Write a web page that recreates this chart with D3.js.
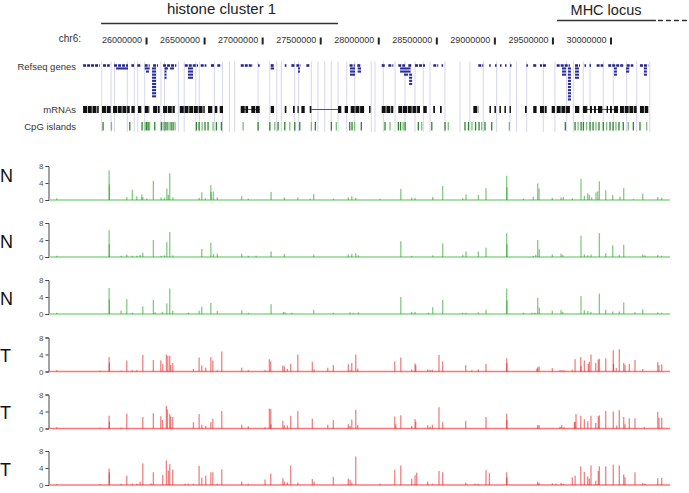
<!DOCTYPE html>
<html><head><meta charset="utf-8">
<script src="https://cdn.jsdelivr.net/npm/d3@7"></script>
<style>body{margin:0;background:#fff} svg{display:block;font-family:"Liberation Sans",Arial,sans-serif}</style>
</head><body><svg id="c" width="689" height="493"></svg>
<script>
// ---- data (positions in Mb on chr6) ----
const ticks = [26000000, 26500000, 27000000, 27500000, 28000000, 28500000, 29000000, 29500000, 30000000];
const regions = [
  {name: "histone cluster 1", start: 25.604, end: 27.645, dashEnd: null},
  {name: "MHC locus", start: 29.531, end: 30.383, dashEnd: 30.667}
];
const trackLabels = ["Refseq genes", "mRNAs", "CpG islands"];
const guideLines = [25.61,25.69,25.72,25.83,25.89,25.92,25.98,26.12,26.15,26.27,26.32,26.42,26.45,26.58,26.65,26.71,26.755,26.956,27.057,27.117,27.157,27.272,27.306,27.415,27.472,27.53,27.587,27.645,27.72,27.789,27.931,27.963,28.035,28.136,28.222,28.308,28.379,28.437,28.566,28.695,28.781,28.896,29.011,29.126,29.183,29.27,29.413,29.513,29.614,29.671,29.757,29.815,29.929,30.015,30.131,30.217,30.33];
const refseqTop = [[25.449,25.593],[25.621,25.679],[25.716,25.836],[25.865,25.888],[25.916,25.951],[25.98,26.023],[26.052,26.095],[26.138,26.252],[26.325,26.439],[26.462,26.511],[26.551,26.577],[26.605,26.64],[26.807,26.913],[26.956,26.97],[27.065,27.094],[27.186,27.2],[27.243,27.272],[27.286,27.324],[27.372,27.401],[27.745,27.789],[27.811,27.845],[28.021,28.049],[28.078,28.121],[28.164,28.222],[28.25,28.279],[28.308,28.394],[28.465,28.508],[28.537,28.545],[28.853,28.896],[28.947,28.955],[28.997,29.005],[29.04,29.048],[29.083,29.091],[29.126,29.134],[29.267,29.275],[29.326,29.355],[29.384,29.401],[29.41,29.445],[29.528,29.642],[29.686,29.729],[29.768,29.777],[29.811,29.82],[29.872,29.929],[29.972,30.101],[30.131,30.188],[30.245,30.317]];
// [start, end, firstRow, lastRow]
const refseqStacked = [[25.733,25.836,1,1],[25.98,26.023,1,1],[25.991,26.017,2,2],[26.043,26.078,1,10],[26.155,26.181,1,1],[26.198,26.232,1,1],[26.151,26.168,1,4],[26.353,26.396,1,4],[27.065,27.094,1,1],[27.3,27.317,1,2],[27.748,27.791,1,3],[27.814,27.843,1,2],[28.179,28.27,1,2],[28.213,28.248,3,3],[28.257,28.283,3,6],[29.574,29.608,1,3],[29.625,29.651,1,11],[29.686,29.72,1,4],[30.022,30.047,1,3],[30.125,30.153,1,2],[30.279,30.305,1,3]];
const mrnaBlocks = [[25.449,25.584],[25.612,25.693],[25.707,25.851],[25.865,25.894],[25.922,25.951],[25.98,26.023],[26.052,26.109],[26.138,26.239],[26.282,26.497],[26.525,26.568],[26.583,26.605],[26.626,26.654],[26.807,26.87],[26.898,26.97],[27.065,27.094],[27.186,27.2],[27.257,27.272],[27.296,27.305],[27.329,27.358],[27.401,27.415],[27.645,27.673],[27.702,27.731],[27.754,27.875],[27.912,27.925],[28.021,28.121],[28.164,28.351],[28.379,28.409],[28.465,28.48],[28.523,28.538],[28.81,28.853],[28.949,28.962],[28.992,29.005],[29.035,29.048],[29.078,29.091],[29.122,29.134],[29.255,29.27],[29.326,29.355],[29.384,29.442],[29.485,29.513],[29.528,29.642],[29.686,29.729],[29.754,29.797],[29.815,29.832],[29.849,29.866],[29.884,29.927],[29.958,29.97],[29.987,30.004],[30.022,30.058],[30.073,30.217],[30.245,30.317]];
const mrnaLinks = [[27.415,27.645],[26.807,26.97],[29.754,30.058]];
const cpgIslands = [25.621,25.693,25.851,25.957,25.983,25.996,26.009,26.022,26.066,26.123,26.138,26.155,26.172,26.189,26.207,26.224,26.241,26.425,26.448,26.474,26.499,26.525,26.568,26.597,26.64,26.827,26.956,27.057,27.1,27.128,27.186,27.229,27.272,27.315,27.415,27.449,27.587,27.63,27.745,27.765,27.787,27.845,28.049,28.092,28.164,28.183,28.205,28.222,28.336,28.365,28.452,28.566,28.594,28.738,28.768,28.798,28.829,28.859,28.882,28.91,28.968,29.12,29.602,29.686,29.712,29.738,29.758,29.786,29.815,29.841,29.866,29.892,29.929,29.958,29.987,30.013,30.038,30.064,30.101,30.144,30.188,30.245,30.303];

const sampleNames = ["N", "N", "N", "T", "T", "T"];
const yTicks = [0, 4, 8];
// [position Mb, signal]
const n1 = [[25.222,0.4],[25.673,7.0],[25.675,3.7],[25.825,0.7],[25.873,2.4],[25.911,0.9],[25.954,1.3],[25.963,0.7],[25.997,0.3],[26.054,4.5],[26.121,0.6],[26.149,0.5],[26.17,2.7],[26.195,6.3],[26.183,1.2],[26.221,0.6],[26.448,0.5],[26.471,1.8],[26.502,0.4],[26.549,3.5],[26.552,1.9],[26.571,2.0],[26.605,0.6],[26.815,0.9],[26.872,0.3],[27.068,1.9],[27.182,0.6],[27.298,0.6],[27.404,0.3],[27.435,1.4],[27.604,0.3],[27.733,0.6],[27.763,0.9],[27.797,0.5],[28.006,0.3],[28.185,2.6],[28.279,0.6],[28.308,0.5],[28.46,0.7],[28.546,3.3],[28.719,0.4],[28.747,1.3],[28.853,1.2],[28.919,2.8],[29.097,5.7],[29.099,3.0],[29.24,0.3],[29.326,0.8],[29.364,3.9],[29.376,2.7],[29.49,0.5],[29.565,0.6],[29.585,0.7],[29.662,0.4],[29.737,5.0],[29.766,1.0],[29.795,1.6],[29.809,1.2],[29.829,0.6],[29.866,1.8],[29.881,2.0],[29.895,4.4],[29.95,2.3],[30.01,1.2],[30.073,0.8],[30.105,2.8],[30.188,0.2],[30.269,1.5],[30.398,0.7],[30.432,0.5]];
const n2 = [[25.222,0.3],[25.673,6.3],[25.675,3.0],[25.776,0.3],[25.825,0.6],[25.873,0.3],[25.911,0.3],[25.94,0.5],[25.963,1.0],[26.054,4.0],[26.121,0.3],[26.149,0.4],[26.17,3.5],[26.195,5.9],[26.221,0.4],[26.471,1.9],[26.549,3.4],[26.571,0.7],[26.605,0.8],[26.815,0.8],[26.872,0.3],[26.939,0.3],[27.068,1.3],[27.182,0.7],[27.435,0.6],[27.733,0.6],[27.763,0.7],[27.797,0.9],[27.82,0.4],[28.185,3.7],[28.279,0.3],[28.46,0.4],[28.546,3.2],[28.719,0.5],[28.747,1.3],[28.853,1.3],[28.919,2.2],[29.097,5.6],[29.099,3.0],[29.326,0.3],[29.347,0.5],[29.364,4.0],[29.378,1.8],[29.49,0.6],[29.565,0.8],[29.58,0.5],[29.737,5.0],[29.766,0.6],[29.795,0.4],[29.823,0.6],[29.895,5.6],[29.95,0.9],[30.01,2.7],[30.067,0.5],[30.105,2.9],[30.269,0.6],[30.288,0.4],[30.398,0.5],[30.432,0.3]];
const n3 = [[25.222,0.3],[25.673,6.1],[25.675,3.4],[25.776,0.8],[25.825,3.5],[25.873,0.3],[25.963,1.8],[26.054,3.3],[26.069,0.4],[26.132,0.5],[26.17,2.5],[26.195,6.0],[26.221,0.8],[26.356,0.3],[26.448,0.8],[26.471,1.7],[26.549,2.6],[26.605,0.7],[26.815,0.9],[26.872,0.3],[27.068,2.3],[27.174,0.5],[27.188,0.4],[27.246,0.3],[27.435,1.0],[27.604,0.3],[27.748,0.4],[27.777,0.3],[27.82,0.4],[28.185,4.0],[28.279,0.5],[28.308,0.5],[28.422,0.3],[28.46,1.6],[28.546,3.3],[28.719,0.3],[28.747,0.3],[28.853,0.4],[28.919,1.0],[29.097,6.0],[29.099,3.2],[29.24,0.3],[29.313,0.3],[29.341,0.3],[29.364,3.8],[29.378,1.5],[29.49,0.8],[29.565,0.9],[29.58,0.5],[29.737,4.2],[29.766,0.9],[29.795,0.7],[29.823,0.5],[29.895,4.8],[29.95,1.0],[30.01,0.6],[30.067,0.6],[30.105,2.7],[30.202,0.4],[30.269,1.1],[30.398,0.4],[30.432,0.3]];
const t1 = [[25.222,0.3],[25.595,0.2],[25.673,3.4],[25.675,2.1],[25.776,0.2],[25.825,2.6],[25.873,0.3],[25.911,0.3],[25.963,3.9],[26.054,2.7],[26.118,2.6],[26.135,1.8],[26.166,4.0],[26.178,3.7],[26.195,3.7],[26.204,1.5],[26.221,2.0],[26.399,0.6],[26.448,3.3],[26.471,1.4],[26.505,0.9],[26.549,3.4],[26.566,2.6],[26.605,0.3],[26.643,4.7],[26.815,0.9],[26.872,0.3],[27.016,0.3],[27.053,2.9],[27.065,2.4],[27.169,1.4],[27.182,1.2],[27.208,0.6],[27.237,1.8],[27.298,4.0],[27.423,2.3],[27.438,0.5],[27.556,0.9],[27.604,1.5],[27.733,1.7],[27.748,0.3],[27.763,2.0],[27.797,4.0],[27.814,0.7],[28.133,2.4],[28.185,3.3],[28.279,0.5],[28.308,1.9],[28.314,1.5],[28.417,0.5],[28.437,0.4],[28.457,0.4],[28.514,3.9],[28.546,2.4],[28.744,1.5],[28.796,0.3],[28.853,0.5],[28.919,1.8],[29.097,3.1],[29.099,2.0],[29.358,0.7],[29.364,1.0],[29.376,1.2],[29.49,0.8],[29.556,0.3],[29.571,0.3],[29.591,0.3],[29.662,0.4],[29.686,2.9],[29.735,3.4],[29.737,1.3],[29.766,2.6],[29.8,1.8],[29.809,2.3],[29.823,4.0],[29.864,2.0],[29.886,2.8],[29.895,3.0],[29.95,3.1],[30.015,5.0],[30.017,1.8],[30.041,0.8],[30.067,5.2],[30.105,2.0],[30.116,1.6],[30.153,1.8],[30.202,2.7],[30.269,0.6],[30.398,2.2],[30.409,1.5],[30.432,1.7]];
const t2 = [[25.222,0.3],[25.595,0.2],[25.673,3.0],[25.675,1.6],[25.776,0.2],[25.825,3.5],[25.963,2.7],[26.054,3.6],[26.118,2.9],[26.132,2.0],[26.166,5.3],[26.175,4.5],[26.195,3.4],[26.204,2.8],[26.221,2.7],[26.399,1.5],[26.448,3.4],[26.471,0.9],[26.505,0.6],[26.549,1.5],[26.566,2.3],[26.643,4.1],[26.815,0.9],[26.872,0.5],[27.016,0.3],[27.053,4.7],[27.065,4.6],[27.067,1.0],[27.169,1.8],[27.182,0.8],[27.208,0.7],[27.237,3.0],[27.298,4.1],[27.423,2.3],[27.556,0.9],[27.604,2.0],[27.733,1.0],[27.748,0.6],[27.763,2.1],[27.797,4.4],[27.814,0.9],[28.133,2.8],[28.142,1.0],[28.185,3.1],[28.279,0.6],[28.308,2.2],[28.314,1.6],[28.417,0.8],[28.437,0.4],[28.457,0.9],[28.514,5.0],[28.546,1.5],[28.744,1.8],[28.919,2.7],[29.097,3.5],[29.099,2.0],[29.364,0.8],[29.376,0.8],[29.556,0.4],[29.571,0.8],[29.591,0.3],[29.68,1.5],[29.686,1.6],[29.694,3.4],[29.735,3.0],[29.766,2.2],[29.795,1.7],[29.823,3.0],[29.864,1.3],[29.886,2.9],[29.895,3.1],[29.95,4.1],[30.015,4.0],[30.045,0.7],[30.067,4.3],[30.105,2.7],[30.116,1.0],[30.153,2.4],[30.202,2.4],[30.282,0.3],[30.398,3.9],[30.409,2.5],[30.432,2.5]];
const t3 = [[25.222,0.2],[25.595,0.2],[25.673,3.9],[25.675,3.0],[25.776,0.3],[25.825,2.2],[25.873,0.3],[25.911,0.3],[25.94,0.8],[25.963,5.1],[26.034,0.4],[26.054,3.0],[26.135,2.4],[26.166,5.8],[26.183,3.4],[26.195,4.9],[26.221,3.6],[26.327,0.3],[26.356,0.3],[26.399,0.3],[26.448,4.5],[26.471,1.7],[26.505,2.2],[26.549,3.0],[26.566,3.0],[26.605,0.3],[26.643,3.7],[26.815,0.8],[26.872,0.3],[27.016,1.3],[27.065,2.7],[27.169,1.6],[27.182,0.8],[27.208,0.6],[27.237,4.6],[27.298,0.6],[27.423,1.4],[27.438,0.8],[27.604,1.9],[27.733,1.5],[27.748,1.2],[27.763,0.6],[27.797,6.7],[28.006,0.3],[28.133,3.6],[28.185,4.6],[28.279,1.5],[28.308,2.3],[28.322,2.9],[28.417,0.8],[28.457,0.3],[28.514,3.3],[28.546,3.0],[28.744,0.6],[28.824,0.3],[28.853,0.3],[28.919,3.5],[28.948,2.9],[29.097,3.0],[29.099,1.8],[29.364,0.8],[29.376,0.5],[29.49,0.4],[29.519,0.3],[29.565,0.5],[29.585,0.3],[29.662,1.8],[29.686,2.2],[29.735,4.4],[29.766,3.1],[29.795,2.0],[29.809,1.5],[29.823,4.6],[29.864,1.0],[29.886,3.3],[29.895,4.4],[29.95,4.4],[30.015,4.8],[30.067,4.6],[30.105,2.5],[30.116,1.8],[30.202,3.0],[30.269,0.5],[30.288,0.3],[30.398,1.6],[30.432,1.7]];
const sampleTracks = [n1, n2, n3, t1, t2, t3];

// ---- drawing ----
const svg = d3.select("#c");
const x = d3.scaleLinear().domain([25.147, 30.504]).range([48, 670]);

// region headers
const reg = svg.append("g");
regions.forEach((r, i) => {
  const ly = i === 0 ? 23.5 : 20.5;
  reg.append("text").attr("x", i === 0 ? (x(r.start) + x(r.end)) / 2 + 2 : 606).attr("y", i === 0 ? 14 : 15)
    .attr("text-anchor", "middle").attr("font-size", i === 0 ? 15 : 14.5).attr("fill", "#222").text(r.name);
  reg.append("line").attr("x1", x(r.start)).attr("x2", x(r.end)).attr("y1", ly).attr("y2", ly)
    .attr("stroke", "#333").attr("stroke-width", 1.4);
  if (r.dashEnd) reg.append("line").attr("x1", x(r.end) + 2).attr("x2", x(r.dashEnd)).attr("y1", ly).attr("y2", ly)
    .attr("stroke", "#333").attr("stroke-width", 1.4).attr("stroke-dasharray", "5,3");
});

// chromosome ruler
svg.append("text").attr("x", 81).attr("y", 42).attr("text-anchor", "end").attr("font-size", 10).attr("fill", "#333").text("chr6:");
const rg = svg.append("g").selectAll("g").data(ticks).join("g");
rg.append("text").attr("x", d => x(d / 1e6) - 5).attr("y", 43).attr("text-anchor", "end")
  .attr("font-size", 9).attr("fill", "#333").text(d => d);
rg.append("rect").attr("x", d => x(d / 1e6) - 1.5).attr("y", 37.5).attr("width", 2).attr("height", 7).attr("fill", "#222");

// browser tracks
const labY = [70, 112.5, 129.5];
svg.append("g").selectAll("text").data(trackLabels).join("text")
  .attr("x", 76).attr("y", (d, i) => labY[i]).attr("text-anchor", "end").attr("font-size", 9.5).attr("fill", "#333").text(d => d);

svg.append("g").selectAll("line").data(guideLines).join("line")
  .attr("x1", d => x(d)).attr("x2", d => x(d)).attr("y1", 61.5).attr("y2", 132)
  .attr("stroke", "#d6d6ec").attr("stroke-width", 1);

svg.append("g").selectAll("line").data(refseqTop).join("line")
  .attr("x1", d => x(d[0])).attr("x2", d => Math.max(x(d[0]) + 1.5, x(d[1])))
  .attr("y1", 65.5).attr("y2", 65.5).attr("stroke", "#22228c").attr("stroke-width", 2.6)
  .attr("stroke-dasharray", "3,1");
const stacked = [];
refseqStacked.forEach(d => { for (let r = d[2]; r <= d[3]; r++) stacked.push([d[0], d[1], r]); });
svg.append("g").selectAll("rect").data(stacked).join("rect")
  .attr("x", d => x(d[0])).attr("width", d => Math.max(1.2, x(d[1]) - x(d[0])))
  .attr("y", d => 64.3 + d[2] * 3.1).attr("height", 2.1).attr("fill", "#2c2c98");

svg.append("g").selectAll("line").data(mrnaLinks).join("line")
  .attr("x1", d => x(d[0])).attr("x2", d => x(d[1])).attr("y1", 109.5).attr("y2", 109.5)
  .attr("stroke", "#555").attr("stroke-width", 1);
svg.append("g").selectAll("line.m").data(mrnaBlocks).join("line").attr("class", "m")
  .attr("x1", d => x(d[0])).attr("x2", d => Math.max(x(d[0]) + 1.2, x(d[1])))
  .attr("y1", 109.5).attr("y2", 109.5).attr("stroke", "#111").attr("stroke-width", 7)
  .attr("stroke-dasharray", "4,0.7");

svg.append("g").selectAll("rect").data(cpgIslands).join("rect")
  .attr("x", d => x(d) - 0.6).attr("width", 1.3).attr("y", 122).attr("height", 8.5)
  .attr("fill", (d, i) => i % 3 === 1 ? "#7cbf7c" : "#2f862f");

// signal tracks
const baselines = [200, 257, 314, 371.5, 428.5, 485];
const labelOffsets = [18.5, 9.5, 9.5, 9.5, 9.5, 9.5];
const barColor = {N: "#1e9e1e", T: "#e41c1c"};
const lineColor = {N: "#8cd68c", T: "#ff7676"};
sampleTracks.forEach((data, i) => {
  const b = baselines[i], name = sampleNames[i];
  const y = d3.scaleLinear().domain([0, 8]).range([b, b - 34]);
  const g = svg.append("g");
  g.append("text").attr("x", 0).attr("y", b - labelOffsets[i]).attr("font-size", 18).attr("fill", "#111").text(name);
  const ax = g.append("g").attr("transform", "translate(48.5,0)")
    .call(d3.axisLeft(y).tickValues(yTicks).tickSize(3).tickPadding(2));
  ax.select(".domain").attr("stroke", "#444");
  ax.selectAll(".tick line").attr("stroke", "#444");
  ax.selectAll(".tick text").attr("font-size", 8).attr("fill", "#555").attr("font-family", "Liberation Sans, Arial, sans-serif");
  g.append("line").attr("x1", 49).attr("x2", 670).attr("y1", b).attr("y2", b)
    .attr("stroke", lineColor[name]).attr("stroke-width", 1.4);
  g.selectAll("rect.bar").data(data).join("rect").attr("class", "bar")
    .attr("x", d => x(d[0]) - 0.6).attr("width", 1.3)
    .attr("y", d => y(d[1])).attr("height", d => b - y(d[1]))
    .attr("fill", barColor[name]).attr("fill-opacity", 0.55);
});
</script></body></html>
